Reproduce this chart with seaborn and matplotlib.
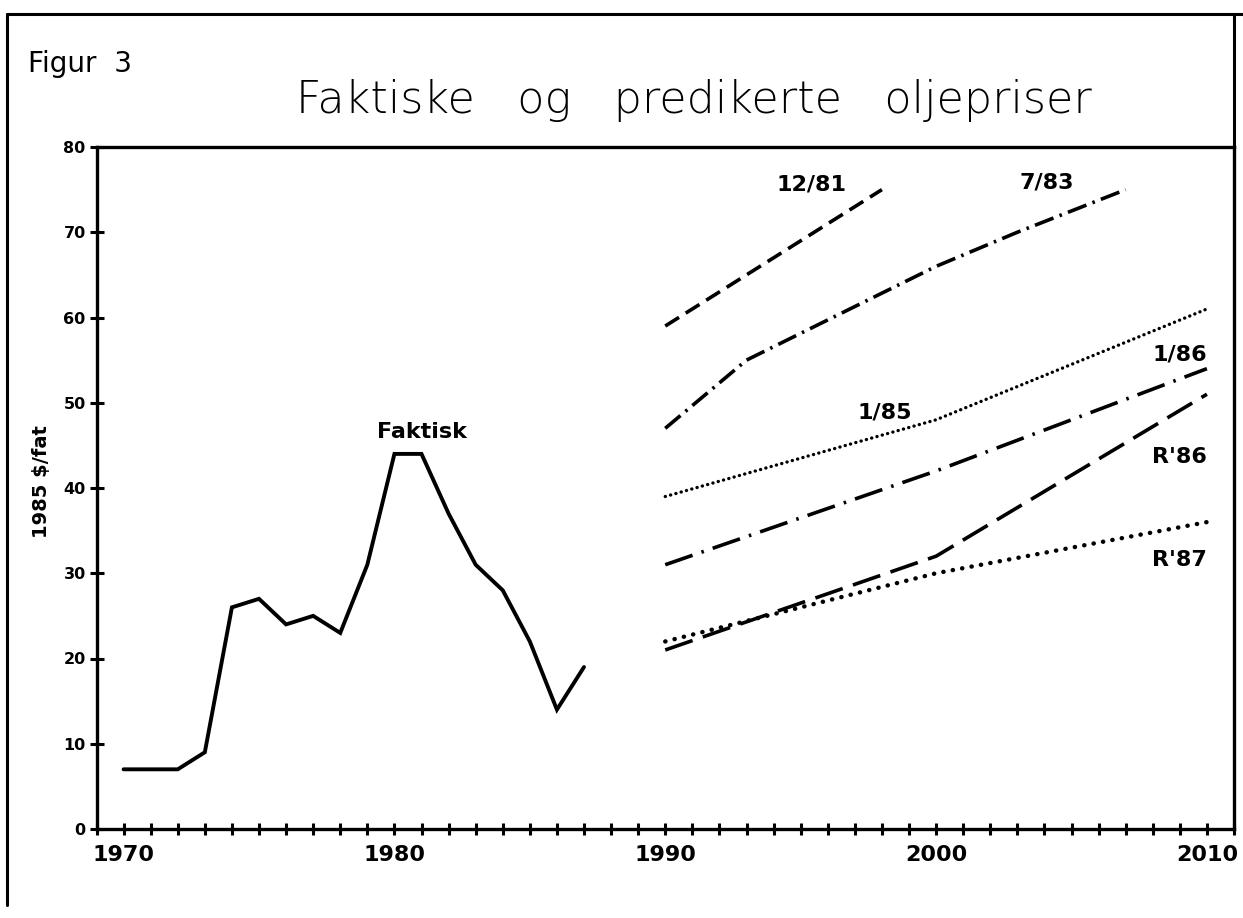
import numpy as np
import pandas as pd
import matplotlib
matplotlib.use("Agg")
import matplotlib.pyplot as plt
from matplotlib.lines import Line2D
from matplotlib.ticker import MultipleLocator
import seaborn as sns

# Faktiske priser (1985 $/fat)
aar_faktisk = [1970, 1971, 1972, 1973, 1974, 1975, 1976, 1977, 1978,
               1979, 1980, 1981, 1982, 1983, 1984, 1985, 1986, 1987]
pris_faktisk = [7, 7, 7, 9, 26, 27, 24, 25, 23,
                31, 44, 44, 37, 31, 28, 22, 14, 19]

# Prediksjoner
aar_1281 = [1990, 1998]
pris_1281 = [59, 75]
aar_783 = [1990, 1993, 2000, 2003, 2007]
pris_783 = [47, 55, 66, 70, 75]
aar_185 = [1990, 2000, 2010]
pris_185 = [39, 48, 61]
aar_186 = [1990, 2000, 2010]
pris_186 = [31, 42, 54]
aar_r86 = [1990, 2000, 2010]
pris_r86 = [21, 32, 51]
aar_r87 = [1990, 2000, 2010]
pris_r87 = [22, 30, 36]

sns.set_style("ticks")
plt.rcParams["font.family"] = ["DejaVu Sans"]
plt.rcParams.update({"text.color": "black", "axes.edgecolor": "black",
                     "axes.labelcolor": "black", "xtick.color": "black",
                     "ytick.color": "black"})

W, H = 1243, 918
fig = plt.figure(figsize=(W / 100, H / 100), dpi=100)
ax = fig.add_axes([96.5 / W, 1 - 829 / H, (1234 - 96.5) / W, (829 - 147) / H])

# serie -> (x, y, linjestil, linjebredde, capstyle)
serier = [
    (aar_faktisk, pris_faktisk, "-", 2.8, "butt"),
    (aar_1281, pris_1281, (0, (4.5, 2.2)), 2.6, "butt"),
    (aar_783, pris_783, (0, (5.5, 1.8, 0.7, 1.8)), 2.6, "butt"),
    (aar_185, pris_185, (0, (0.05, 1.6)), 2.4, "round"),
    (aar_186, pris_186, (0, (8, 2.6, 0.7, 2.6)), 2.6, "butt"),
    (aar_r86, pris_r86, (0, (8, 3)), 2.6, "butt"),
    (aar_r87, pris_r87, (0, (0.05, 2.1)), 3.2, "round"),
]
for x, y, ls, lw, cap in serier:
    sns.lineplot(x=x, y=y, ax=ax, color="black", linestyle=ls, linewidth=lw)
    ax.lines[-1].set_dash_capstyle(cap)
    ax.lines[-1].set_solid_capstyle("round")
    ax.lines[-1].set_solid_joinstyle("miter")

ax.set_xlim(1969, 2011)
ax.set_ylim(0, 80)
ax.xaxis.set_major_locator(MultipleLocator(10))
ax.xaxis.set_minor_locator(MultipleLocator(1))
ax.yaxis.set_major_locator(MultipleLocator(10))
ax.tick_params(axis="x", which="both", direction="inout", length=9, width=2.2,
               pad=7, labelsize=16)
ax.tick_params(axis="y", which="major", direction="inout", length=9.5, width=2.2,
               pad=3, labelsize=11.5)
for lab in ax.get_xticklabels() + ax.get_yticklabels():
    lab.set_fontweight("bold")
for sp in ax.spines.values():
    sp.set_linewidth(2.4)
    sp.set_color("black")
ax.set_xlabel("")
ax.set_ylabel("")

# Etiketter på seriene
etikett = dict(fontsize=16, fontweight="bold", va="center")
ax.text(1981.0, 46.6, "Faktisk", ha="center", **etikett)
ax.text(1995.4, 75.6, "12/81", ha="center", **etikett)
ax.text(2004.1, 75.8, "7/83", ha="center", **etikett)
ax.text(1998.1, 48.9, "1/85", ha="center", **etikett)
ax.text(2010.0, 55.7, "1/86", ha="right", **etikett)
ax.text(2010.0, 43.6, "R'86", ha="right", **etikett)
ax.text(2010.0, 31.6, "R'87", ha="right", **etikett)

# Tekster i figuren
fig.text(41.7 / W, 1 - 482 / H, "1985 $/fat", rotation=90, ha="center",
         va="center", fontsize=14, fontweight="bold")
fig.text(28 / W, 1 - 72 / H, "Figur  3", ha="left", va="baseline", fontsize=20)
fig.text(694 / W, 1 - 100 / H, "Faktiske   og   predikerte   oljepriser",
         ha="center", va="center", fontsize=32, fontweight="light")

# Ramme rundt figuren
x0, yt, yb = 7 / W, 1 - 14 / H, 1 - 905 / H
xr = 1234 / W
fig.add_artist(Line2D([x0, x0], [yb, yt], color="black", lw=2.2, transform=fig.transFigure))
fig.add_artist(Line2D([x0, 1.0], [yt, yt], color="black", lw=2.2, transform=fig.transFigure))
fig.add_artist(Line2D([xr, xr], [1 - 147 / H, yt], color="black", lw=2.2, transform=fig.transFigure))

fig.savefig("out.png", dpi=100, facecolor="white")
